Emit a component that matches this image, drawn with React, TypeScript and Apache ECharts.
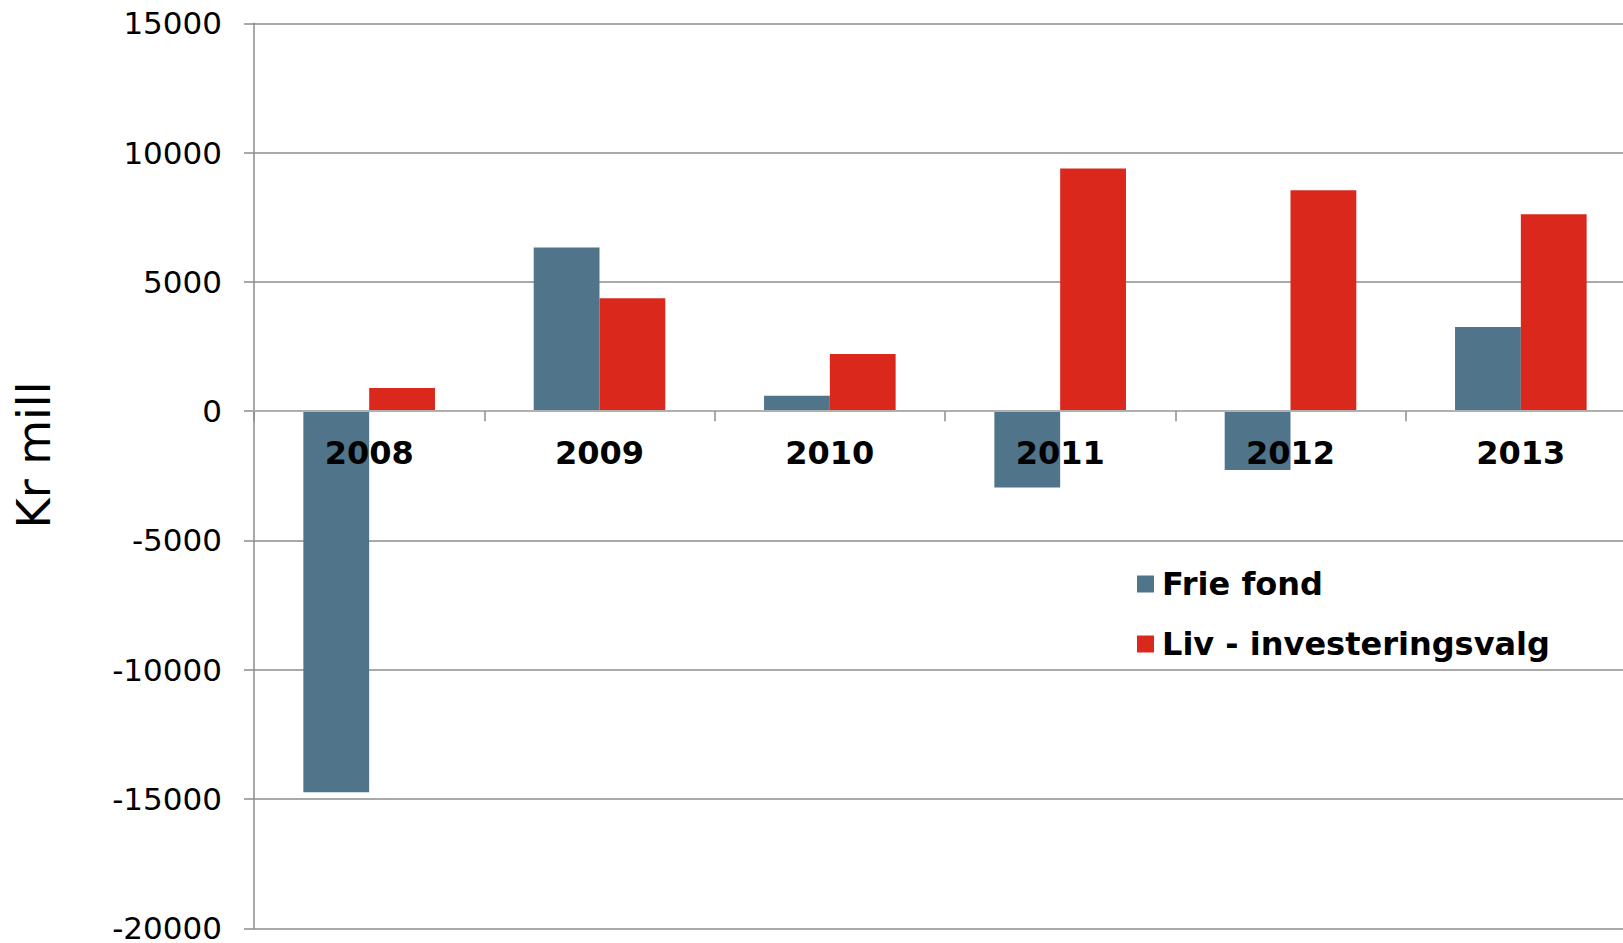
import React, { useEffect, useRef } from "react";
import * as echarts from "echarts";

const categories = ["2008", "2009", "2010", "2011", "2012", "2013"];
const frieFond = [-14740, 6330, 600, -2950, -2280, 3250];
const livInvestering = [900, 4370, 2210, 9380, 8540, 7620];
const seriesNames = ["Frie fond", "Liv - investeringsvalg"];
const yAxisTitle = "Kr mill";
const yMin = -20000;
const yMax = 15000;

export default function App() {
  const ref = useRef<HTMLDivElement>(null);
  useEffect(() => {
    if (!ref.current) return;
    const chart = echarts.init(ref.current, undefined, { renderer: "svg" });
    const gridHeight = 905;
    const zeroOffset = -(gridHeight * (0 - yMin)) / (yMax - yMin);
    chart.setOption({
      animation: false,
      backgroundColor: "#ffffff",
      grid: {
        left: 254,
        top: 23.3,
        width: 1382,
        height: gridHeight,
        containLabel: false,
        outerBoundsMode: "none",
      },
      legend: {
        orient: "vertical",
        left: 1132,
        top: 563,
        itemWidth: 17,
        itemHeight: 17,
        itemGap: 28,
        icon: "rect",
        selectedMode: false,
        textStyle: {
          fontFamily: "DejaVu Sans",
          fontWeight: "bold",
          fontSize: 32,
          lineHeight: 32,
          color: "#000",
          padding: [0, 0, 0, 3],
        },
        data: seriesNames,
      },
      xAxis: {
        type: "category",
        data: categories,
        position: "bottom",
        offset: zeroOffset,
        axisLine: { onZero: false, lineStyle: { color: "#b0b0b0", width: 2 } },
        axisTick: { show: true, interval: 0, length: 10, lineStyle: { color: "#8c8c8c", width: 1.5 } },
        axisLabel: {
          interval: 0,
          margin: 26,
          fontFamily: "DejaVu Sans",
          fontWeight: "bold",
          fontSize: 32,
          color: "#000",
        },
        splitLine: { show: false },
        z: 10,
      },
      yAxis: {
        type: "value",
        min: yMin,
        max: yMax,
        interval: 5000,
        axisLine: { show: true, lineStyle: { color: "#8c8c8c", width: 1.5 } },
        axisTick: { show: true, length: 10, lineStyle: { color: "#8c8c8c", width: 1.5 } },
        axisLabel: {
          margin: 32,
          fontFamily: "DejaVu Sans",
          fontSize: 31,
          color: "#000",
          formatter: (v: number) => String(v),
        },
        splitLine: { show: true, lineStyle: { color: "#8c8c8c", width: 1.5 } },
      },
      graphic: [
        {
          type: "text",
          x: 34,
          y: 455,
          rotation: Math.PI / 2,
          style: {
            text: yAxisTitle,
            fontFamily: "DejaVu Sans",
            fontSize: 46,
            fill: "#000",
            align: "center",
            verticalAlign: "middle",
          },
        },
      ],
      series: [
        {
          name: seriesNames[0],
          type: "bar",
          data: frieFond,
          barGap: "0%",
          barCategoryGap: "42.86%",
          itemStyle: { color: "#50758A" },
        },
        {
          name: seriesNames[1],
          type: "bar",
          data: livInvestering,
          barGap: "0%",
          barCategoryGap: "42.86%",
          itemStyle: { color: "#DA291C" },
        },
      ],
    });
    return () => chart.dispose();
  }, []);
  return (
    <div
      ref={ref}
      style={{ position: "absolute", left: 0, top: 0, width: 1623, height: 943 }}
    />
  );
}
